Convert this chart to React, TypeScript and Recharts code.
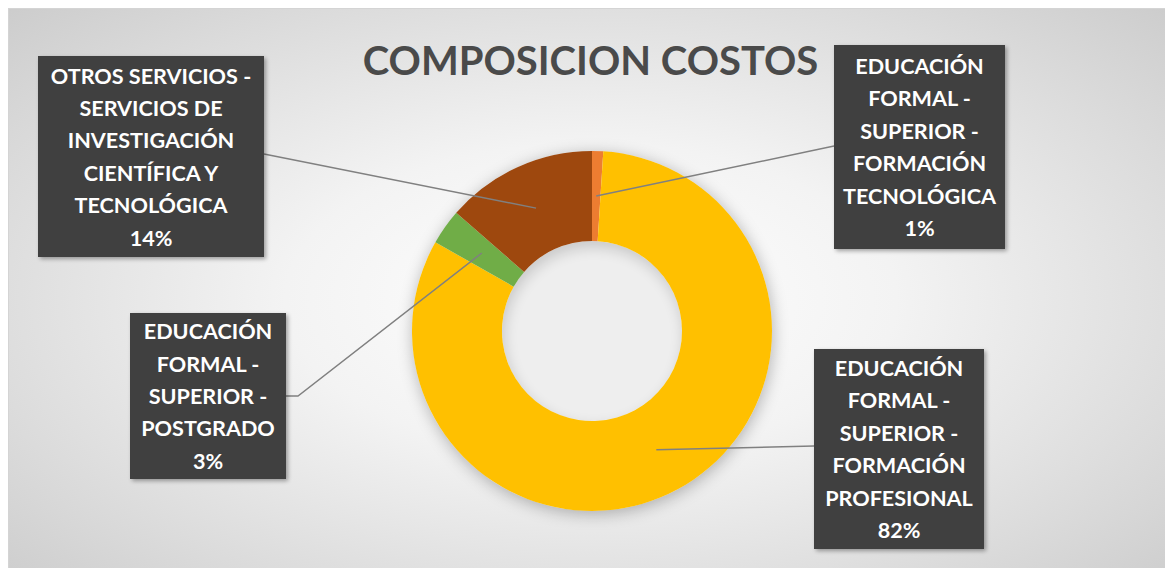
import { PieChart, Pie, Cell } from "recharts";

const categories = [
  "EDUCACIÓN FORMAL - SUPERIOR - FORMACIÓN TECNOLÓGICA",
  "EDUCACIÓN FORMAL - SUPERIOR - FORMACIÓN PROFESIONAL",
  "EDUCACIÓN FORMAL - SUPERIOR - POSTGRADO",
  "OTROS SERVICIOS - SERVICIOS DE INVESTIGACIÓN CIENTÍFICA Y TECNOLÓGICA",
];
const shares = [1.0, 82.2, 3.2, 13.6];
const labelLines = [
  ["EDUCACIÓN", "FORMAL -", "SUPERIOR -", "FORMACIÓN", "TECNOLÓGICA"],
  ["EDUCACIÓN", "FORMAL -", "SUPERIOR -", "FORMACIÓN", "PROFESIONAL"],
  ["EDUCACIÓN", "FORMAL -", "SUPERIOR -", "POSTGRADO"],
  ["OTROS SERVICIOS -", "SERVICIOS DE", "INVESTIGACIÓN", "CIENTÍFICA Y", "TECNOLÓGICA"],
];
const colors = ["#ED7D31", "#FFC000", "#70AD47", "#9E480E"];

// label box layout (chart coords): box + where the leader line attaches
const boxes = [
  { x: 825, y: 36, w: 171, h: 204, ax: 825, ay: 137, elbow: null },
  { x: 805, y: 340, w: 170, h: 200, ax: 805, ay: 437, elbow: null },
  { x: 121, y: 304, w: 156, h: 166, ax: 277, ay: 387, elbow: 289 },
  { x: 29, y: 47, w: 226, h: 201, ax: 255, ay: 145, elbow: null },
];

const data = categories.map((name, i) => ({ name, value: shares[i] }));

const W = 1165;
const H = 560;
const RAD = Math.PI / 180;
const LINE_H = 32.4;
const CX = 583;
const CY = 322;
const R_IN = 90;
const R_OUT = 180;

function renderLabel(props: any) {
  const { cx, cy, midAngle, innerRadius, outerRadius, index, percent } = props;
  const b = boxes[index];
  const r = (innerRadius + outerRadius) / 2;
  const px = cx + r * Math.cos(-midAngle * RAD);
  const py = cy + r * Math.sin(-midAngle * RAD);
  const lines = [...labelLines[index], `${Math.round(percent * 100)}%`];
  const startY = b.y + b.h / 2 - (lines.length * LINE_H) / 2 + LINE_H / 2;
  const pts =
    b.elbow != null
      ? `${b.ax},${b.ay} ${b.elbow},${b.ay} ${px},${py}`
      : `${b.ax},${b.ay} ${px},${py}`;
  return (
    <g key={`lbl-${index}`}>
      <polyline points={pts} fill="none" stroke="#808080" strokeWidth={1.5} />
      <rect
        x={b.x}
        y={b.y}
        width={b.w}
        height={b.h}
        fill="#404040"
        filter="url(#boxShadow)"
      />
      {lines.map((t, k) => (
        <text
          key={k}
          x={b.x + b.w / 2}
          y={startY + k * LINE_H}
          textAnchor="middle"
          dominantBaseline="central"
          fill="#ffffff"
          fontSize={21.6}
          fontWeight={700}
          fontFamily="Lato, 'Open Sans', sans-serif"
        >
          {t}
        </text>
      ))}
    </g>
  );
}

export default function App() {
  return (
    <div
      style={{
        position: "relative",
        width: W,
        height: H,
        boxSizing: "border-box",
        borderTop: "1px solid #d4d4d4",
        borderLeft: "1px solid #d4d4d4",
        background:
          "radial-gradient(ellipse 75% 80% at 50% 52%, #ffffff 0%, #f3f3f3 35%, #dcdcdc 70%, #c8c8c8 100%)",
        fontFamily: "Lato, sans-serif",
      }}
    >
      <svg width={0} height={0} style={{ position: "absolute" }}>
        <defs>
          <filter id="boxShadow" x="-10%" y="-10%" width="120%" height="120%">
            <feGaussianBlur in="SourceAlpha" stdDeviation={2} />
            <feOffset dx={2} dy={2} result="blur" />
            <feComponentTransfer>
              <feFuncA type="linear" slope={0.35} />
            </feComponentTransfer>
            <feMerge>
              <feMergeNode />
              <feMergeNode in="SourceGraphic" />
            </feMerge>
          </filter>
        </defs>
      </svg>
      {/* soft shadow around the ring and inside the hole */}
      <div
        style={{
          position: "absolute",
          left: CX - R_OUT,
          top: CY - R_OUT,
          width: R_OUT * 2,
          height: R_OUT * 2,
          borderRadius: "50%",
          boxShadow: "1px 3px 16px rgba(0,0,0,0.28)",
        }}
      />
      <div
        style={{
          position: "absolute",
          left: CX - R_IN,
          top: CY - R_IN,
          width: R_IN * 2,
          height: R_IN * 2,
          borderRadius: "50%",
          background: "#eeeeee",
          boxShadow: "inset 2px 6px 14px rgba(0,0,0,0.16)",
        }}
      />
      <div
        style={{
          position: "absolute",
          left: 0,
          width: W - 2,
          top: 26,
          textAlign: "center",
          fontSize: 40,
          fontWeight: 700,
          color: "#4a4a4a",
          lineHeight: "50px",
        }}
      >
        COMPOSICION COSTOS
      </div>
      <PieChart
        width={W - 1}
        height={H - 1}
        margin={{ top: 0, right: 0, bottom: 0, left: 0 }}
        style={{ position: "absolute", left: 0, top: 0 }}
      >
        <Pie
          data={data}
          dataKey="value"
          nameKey="name"
          cx={CX}
          cy={CY}
          innerRadius={R_IN}
          outerRadius={R_OUT}
          startAngle={90}
          endAngle={-270}
          stroke="none"
          isAnimationActive={false}
          labelLine={false}
          label={renderLabel}
        >
          {data.map((d, i) => (
            <Cell key={d.name} fill={colors[i]} />
          ))}
        </Pie>
      </PieChart>
    </div>
  );
}
